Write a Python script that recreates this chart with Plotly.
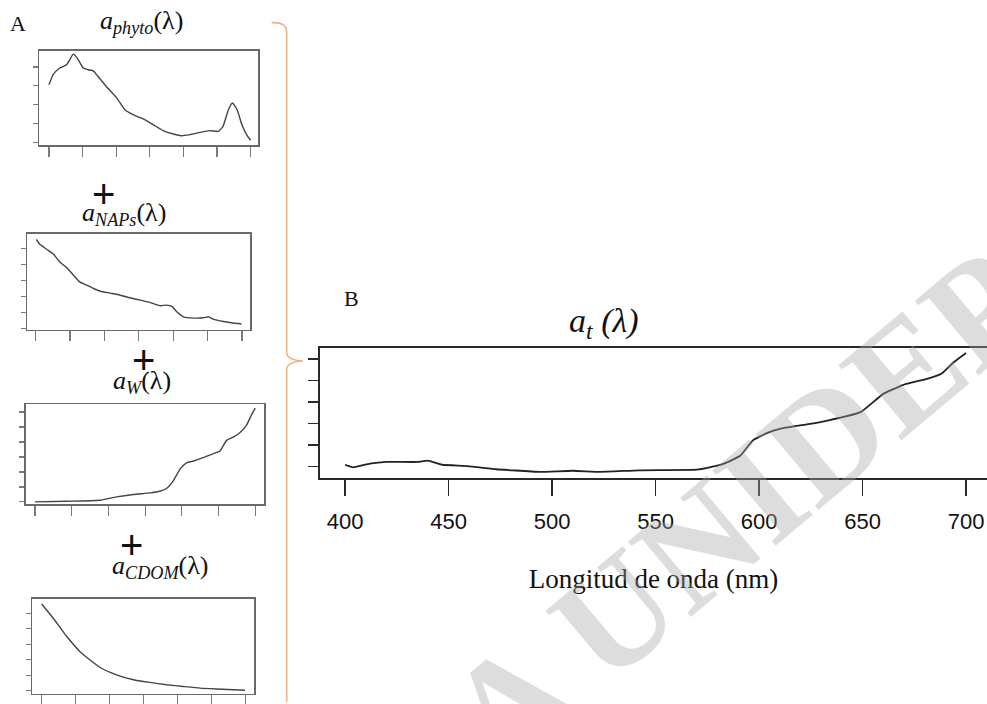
import plotly.graph_objects as go

W, H = 987, 704

# ---------------- data (arbitrary units = tick steps) -------------
wl_phyto = [400, 406, 416, 426, 431, 436, 442, 451, 458, 466, 473, 486, 501, 513, 525,
            540, 555, 570, 585, 597, 610, 625, 640, 652, 659, 667, 673, 680, 687, 694, 700]
a_phyto = [3.06, 3.59, 3.95, 4.12, 4.39, 4.69, 4.48, 3.95, 3.86, 3.80, 3.50, 2.94, 2.35, 1.73, 1.47,
           1.24, 0.94, 0.62, 0.44, 0.35, 0.41, 0.53, 0.62, 0.58, 0.85, 1.73, 2.09, 1.73, 0.94, 0.41, 0.11]

wl_nap = [401, 406, 416, 426, 435, 445, 455, 464, 474, 484, 494, 508, 523, 537, 552,
          566, 581, 590, 598, 605, 615, 629, 644, 651, 658, 673, 687, 699]
a_nap = [5.56, 5.25, 4.94, 4.63, 4.15, 3.80, 3.32, 2.90, 2.70, 2.49, 2.32, 2.20, 2.07, 1.91, 1.76,
         1.62, 1.41, 1.45, 1.37, 1.04, 0.72, 0.64, 0.66, 0.72, 0.58, 0.43, 0.33, 0.27]

wl_w = [400, 443, 488, 511, 534, 557, 570, 580, 588, 598, 607, 616, 629, 643, 652,
        661, 670, 679, 688, 695, 700]
a_w = [0.00, 0.04, 0.11, 0.33, 0.49, 0.60, 0.71, 0.93, 1.37, 2.22, 2.62, 2.73, 2.95, 3.22, 3.40,
       4.11, 4.33, 4.62, 5.11, 5.82, 6.27]

wl_cdom = [400, 417, 437, 456, 486, 510, 535, 559, 584, 608, 633, 657, 699]
a_cdom = [5.60, 4.68, 3.50, 2.54, 1.50, 1.03, 0.71, 0.54, 0.39, 0.28, 0.17, 0.11, 0.03]

wl_t = [400, 404, 412, 420, 435, 440, 447, 459, 473, 481, 494, 510, 523, 542, 570,
        575, 583, 591, 597, 604, 610, 623, 633, 649, 660, 671, 682, 688, 694, 700]
a_t = [0.09, -0.03, 0.14, 0.22, 0.22, 0.28, 0.09, 0.03, -0.12, -0.17, -0.24, -0.19, -0.24, -0.17, -0.14,
       -0.06, 0.14, 0.52, 1.22, 1.57, 1.76, 1.96, 2.14, 2.53, 3.38, 3.84, 4.10, 4.31, 4.85, 5.28]

x_ticks = [400, 450, 500, 550, 600, 650, 700]
x_ticklabels = ["400", "450", "500", "550", "600", "650", "700"]

titles = ["<i>a</i><sub><i>phyto</i></sub>(λ)", "<i>a</i><sub><i>NAPs</i></sub>(λ)",
          "<i>a</i><sub><i>W</i></sub>(λ)", "<i>a</i><sub><i>CDOM</i></sub>(λ)"]
title_b = "<i>a</i><sub><i>t</i></sub><i> (λ)</i>"
xlabel_b = "Longitud de onda (nm)"
watermark = "A UNIDEP"


def fx(x):
    return x / W


def fy(y):
    return 1 - y / H


fig = go.Figure()

# small panels: (left, top, right, bottom) box in px, x range, y range, number of y ticks
panels = [
    (39.3, 50.7, 258.3, 145.7, [385.6, 711.5], [-0.16, 4.88], 5, wl_phyto, a_phyto),
    (27.3, 234.3, 250.0, 330.7, [387.8, 711.5], [-0.09, 5.92], 6, wl_nap, a_nap),
    (26.0, 405.3, 264.3, 505.7, [387.7, 712.4], [-0.16, 6.53], 7, wl_w, a_w),
    (32.3, 600.7, 254.3, 695.7, [386.2, 712.6], [-0.19, 5.92], 6, wl_cdom, a_cdom),
]

small_x = dict(showline=True, mirror=True, linecolor="#6a6a6a", linewidth=1.6,
               ticks="outside", ticklen=10, tickwidth=1.2, tickcolor="#7a7a7a",
               showticklabels=False, showgrid=False, zeroline=False, tickvals=x_ticks)
small_y = dict(showline=True, mirror=True, linecolor="#6a6a6a", linewidth=1.6,
               ticks="outside", ticklen=5, tickwidth=1.2, tickcolor="#7a7a7a",
               showticklabels=False, showgrid=False, zeroline=False)

for i, (l, t, r, b, xr, yr, nyt, xs, ys) in enumerate(panels, start=1):
    sfx = "" if i == 1 else str(i)
    fig.add_trace(go.Scatter(x=xs, y=ys, mode="lines", xaxis="x" + sfx, yaxis="y" + sfx,
                             line=dict(color="#454545", width=1.4,
                                       shape="spline", smoothing=0.5),
                             showlegend=False, hoverinfo="skip"))
    fig.layout["xaxis" + sfx] = dict(small_x, domain=[fx(l), fx(r)], range=xr,
                                     anchor="y" + sfx)
    fig.layout["yaxis" + sfx] = dict(small_y, domain=[fy(b), fy(t)], range=yr,
                                     anchor="x" + sfx, tickvals=list(range(nyt)))

# panel B
fig.add_trace(go.Scatter(x=wl_t, y=a_t, mode="lines", xaxis="x5", yaxis="y5",
                         line=dict(color="#222222", width=1.8, shape="spline", smoothing=0.4),
                         showlegend=False, hoverinfo="skip"))
fig.layout["xaxis5"] = dict(domain=[fx(320), 1.0], range=[387.9, 710.1], anchor="y5",
                            showline=True, mirror=True, linecolor="#2a2a2a", linewidth=2,
                            ticks="outside", ticklen=16, tickwidth=1.6, tickcolor="#2a2a2a",
                            tickvals=x_ticks, ticktext=x_ticklabels,
                            ticklabelstandoff=7,
                            tickfont=dict(family="Liberation Sans", size=22, color="#111"),
                            showgrid=False, zeroline=False,
                            title=dict(text=xlabel_b, standoff=36,
                                       font=dict(family="Liberation Serif", size=27, color="#111")))
fig.layout["yaxis5"] = dict(domain=[fy(479), fy(349)], range=[-0.509, 5.509], anchor="x5",
                            showline=True, mirror=False, linecolor="#2a2a2a", linewidth=2,
                            ticks="outside", ticklen=10, tickwidth=1.6, tickcolor="#2a2a2a",
                            tickvals=[0, 1, 2, 3, 4, 5], showticklabels=False,
                            showgrid=False, zeroline=False)

serif = "Liberation Serif"
ann = []


def add_text(x, y, text, size, family=serif, color="#111"):
    ann.append(dict(x=fx(x), y=fy(y), xref="paper", yref="paper", text=text,
                    showarrow=False, xanchor="center", yanchor="middle",
                    font=dict(family=family, size=size, color=color)))


# watermark
ann.append(dict(x=fx(740), y=fy(510), xref="paper", yref="paper", text="<b>" + watermark + "</b>",
                showarrow=False, textangle=-40, xanchor="center", yanchor="middle",
                font=dict(family=serif, size=150, color="rgba(165,165,165,0.38)")))

add_text(18, 24, "A", 22)
add_text(141, 22, titles[0], 26)
add_text(103, 195, "+", 40, family="Liberation Sans")
add_text(124, 215, titles[1], 26)
add_text(143, 361, "+", 40, family="Liberation Sans")
add_text(142, 383, titles[2], 26)
add_text(131, 547, "+", 40, family="Liberation Sans")
add_text(160, 569, titles[3], 26)
add_text(351, 299, "B", 22)
add_text(604, 324, title_b, 34)


def P(x, y):
    return f"{fx(x):.5f},{fy(y):.5f}"


# orange brace
brace = ("M " + P(271.7, 22.7) + " Q " + P(286.7, 22.0) + " " + P(286.7, 32) +
         " L " + P(286.7, 354) + " Q " + P(287, 361) + " " + P(303, 362) +
         " M " + P(303, 362) + " Q " + P(287, 363) + " " + P(286.7, 370) +
         " L " + P(286.7, 704))

fig.update_layout(
    width=W, height=H,
    margin=dict(l=0, r=0, t=0, b=0),
    paper_bgcolor="white", plot_bgcolor="white",
    annotations=ann,
    shapes=[dict(type="path", path=brace, xref="paper", yref="paper",
                 line=dict(color="#F4B183", width=1.6))],
    showlegend=False,
)

fig.write_html("out.html", config={"displayModeBar": False, "staticPlot": True},
               post_script="document.body.style.margin='0';document.body.style.padding='0';")
